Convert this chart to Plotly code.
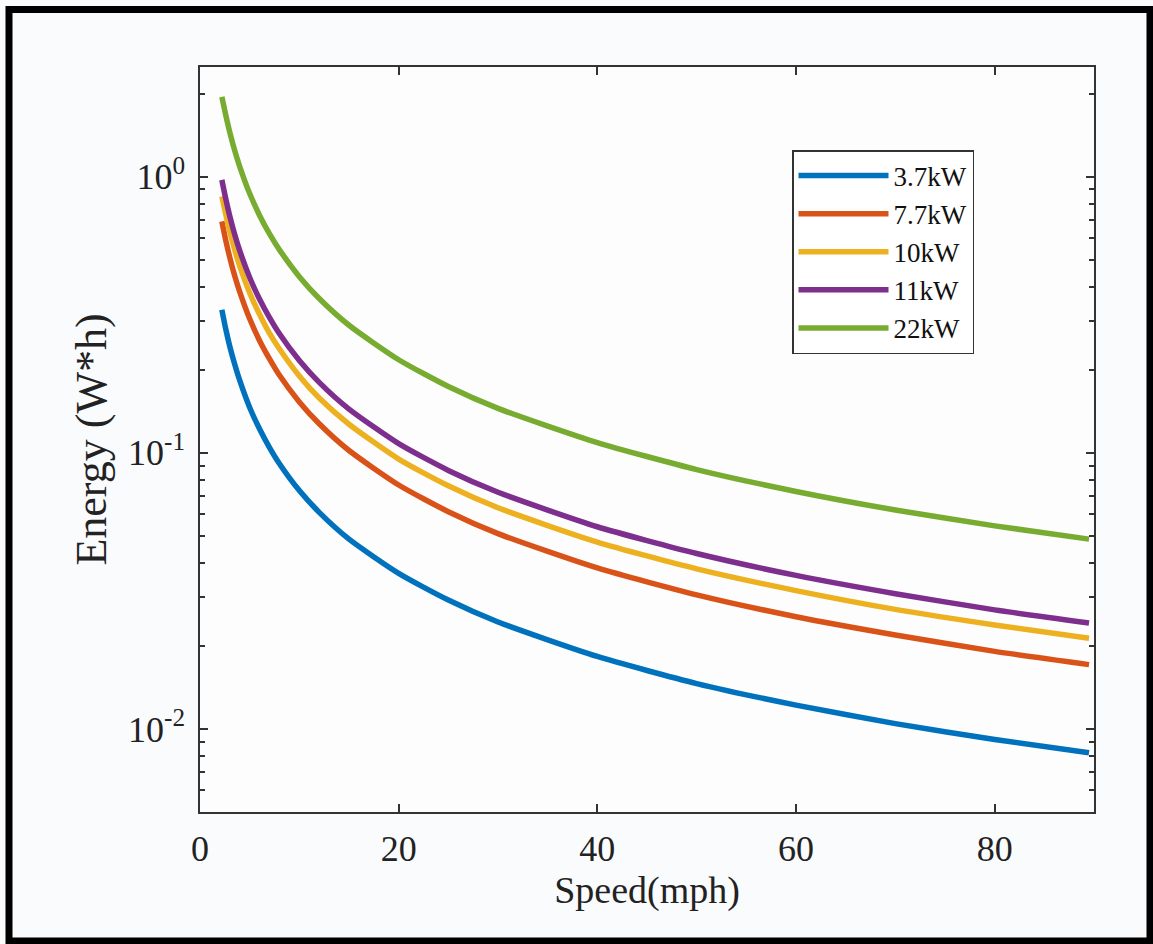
import plotly.graph_objects as go

# Speed (mph) sample positions
speed = [2.2, 2.6, 3, 3.5, 4, 5, 6, 7, 8, 10, 12, 15, 20, 25, 30, 40, 50, 60, 70, 80, 89.5]

# Energy (W*h) values for each charger power
e_3_7kw = [0.33, 0.28, 0.243, 0.209, 0.183, 0.146, 0.122, 0.1045, 0.0913, 0.073, 0.0609,
           0.0487, 0.0366, 0.0293, 0.0244, 0.0183, 0.0146, 0.0122, 0.01045, 0.00915, 0.0082]
e_7_7kw = [0.69, 0.587, 0.51, 0.437, 0.383, 0.306, 0.255, 0.219, 0.191, 0.153, 0.1275,
           0.102, 0.0765, 0.0612, 0.051, 0.0383, 0.0306, 0.0255, 0.0219, 0.0191, 0.0171]
e_10kw = [0.85, 0.73, 0.633, 0.543, 0.475, 0.38, 0.317, 0.271, 0.238, 0.19, 0.158,
          0.127, 0.095, 0.076, 0.0633, 0.0475, 0.038, 0.0317, 0.0271, 0.0238, 0.0213]
e_11kw = [0.975, 0.83, 0.72, 0.617, 0.54, 0.432, 0.36, 0.309, 0.27, 0.216, 0.18,
          0.144, 0.108, 0.0864, 0.072, 0.054, 0.0432, 0.036, 0.0309, 0.027, 0.0242]
e_22kw = [1.95, 1.67, 1.45, 1.243, 1.09, 0.87, 0.725, 0.621, 0.544, 0.435, 0.3625,
          0.29, 0.2175, 0.174, 0.145, 0.109, 0.087, 0.0725, 0.0621, 0.0544, 0.0487]

series_names = ["3.7kW", "7.7kW", "10kW", "11kW", "22kW"]
series_values = [e_3_7kw, e_7_7kw, e_10kw, e_11kw, e_22kw]
series_colors = ["#0072BD", "#D95319", "#EDB120", "#7E2F8E", "#77AC30"]

x_ticks = [0, 20, 40, 60, 80]
y_major = [0.01, 0.1, 1]
y_major_text = ["10<sup>-2</sup>", "10<sup>-1</sup>", "10<sup>0</sup>"]

FONT = "Liberation Serif, Times New Roman, serif"

fig = go.Figure()
for name, vals, col in zip(series_names, series_values, series_colors):
    fig.add_trace(go.Scatter(
        x=speed, y=vals, mode="lines", name=name,
        line=dict(color=col, width=5.5, shape="spline", smoothing=0.6),
    ))

# minor y tick positions: 2..9 multiples of each decade inside the range
y_minor = []
for dec in [0.001, 0.01, 0.1, 1]:
    for m in range(2, 10):
        v = round(dec * m, 6)
        if 0.005 <= v <= 2.5:
            y_minor.append(v)

W, H = 1153, 944
L, R, T, B = 200, 1094, 67, 812
pw, ph = R - L, B - T

def px_x(p):
    return (p - L) / pw

def px_y(p):
    return (B - p) / ph

fig.update_layout(
    width=W, height=H,
    margin=dict(l=L, r=W - R, t=T, b=H - B),
    paper_bgcolor="#fafbfd",
    plot_bgcolor="#fdfdfe",
    font=dict(family=FONT, size=36, color="#222222"),
    showlegend=True,
    legend=dict(
        x=px_x(792), y=px_y(150), xanchor="left", yanchor="top",
        bgcolor="#ffffff", bordercolor="#333333", borderwidth=1.5,
        font=dict(family=FONT, size=27, color="#111111"),
        itemwidth=90, tracegroupgap=0,
    ),
    xaxis=dict(
        range=[0, 90], tickvals=x_ticks, ticks="inside", ticklen=8, tickwidth=1.5,
        tickcolor="#333333", showline=True, linecolor="#333333", linewidth=1.5,
        mirror="ticks", showgrid=False, zeroline=False,
        tickfont=dict(family=FONT, size=36), ticklabelstandoff=4,
        title=dict(text="Speed(mph)", font=dict(family=FONT, size=38), standoff=0),
        automargin=False,
    ),
    yaxis=dict(
        type="log", range=[-2.301, 0.398],
        tickvals=y_major, ticktext=y_major_text,
        ticks="inside", ticklen=8, tickwidth=1.5, tickcolor="#333333",
        minor=dict(tickvals=y_minor, ticks="inside", ticklen=5, tickwidth=1.5,
                   tickcolor="#333333", showgrid=False),
        showline=True, linecolor="#333333", linewidth=1.5,
        mirror="ticks", showgrid=False, zeroline=False,
        tickfont=dict(family=FONT, size=36), ticklabelstandoff=6,
        title=dict(text="Energy (W*h)", font=dict(family=FONT, size=44), standoff=8),
        automargin=False,
    ),
    shapes=[dict(
        type="rect", xref="paper", yref="paper",
        x0=px_x(9), x1=px_x(1150), y0=px_y(941), y1=px_y(9.5),
        line=dict(color="#000000", width=7), fillcolor="rgba(0,0,0,0)", layer="above",
    )],
)

fig.write_html("out.html", config={"displayModeBar": False},
               post_script="document.body.style.margin='0px';")
